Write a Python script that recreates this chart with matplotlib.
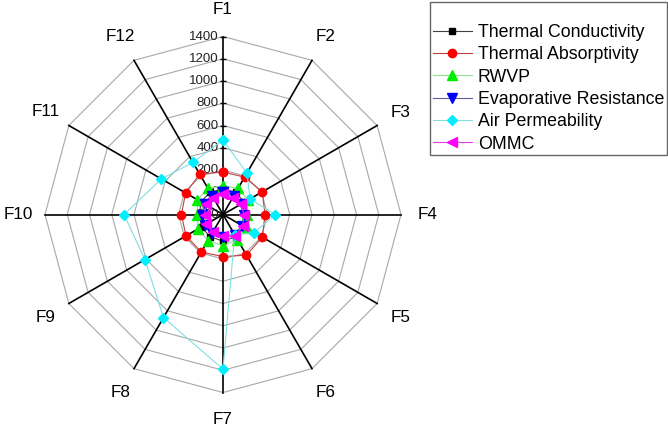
import numpy as np
import matplotlib
matplotlib.use("Agg")
import matplotlib.pyplot as plt

plt.rcParams['font.family'] = ['Liberation Sans', 'DejaVu Sans']

categories = ["F1", "F2", "F3", "F4", "F5", "F6", "F7", "F8", "F9", "F10", "F11", "F12"]

thermal_conductivity = [30, 30, 20, 10, 25, 30, 40, 30, 25, 10, 30, 30]
thermal_absorptivity = [182, 188, 207, 178, 208, 222, 178, 190, 184, 174, 188, 218]
rwvp = [60, 70, 60, 15, 45, 60, 80, 70, 60, 30, 65, 70]
evaporative_resistance = [0, -10, -5, -10, 0, 10, 0, -5, -10, -15, -10, -5]
air_permeability = [470, 230, 80, 270, 125, 10, 1190, 870, 610, 690, 440, 340]
ommc = [-20, -25, -15, -10, 5, 20, -5, -15, -25, -35, -20, -25]

radial_ticks = [-200, 0, 200, 400, 600, 800, 1000, 1200, 1400]
rmin, rmax = -200, 1400

series = [
    ("Thermal Conductivity", thermal_conductivity, "#404040", "s", "black", 5),
    ("Thermal Absorptivity", thermal_absorptivity, "#c04040", "o", "#ff0000", 6),
    ("RWVP", rwvp, "#90e090", "^", "#00ee00", 6.5),
    ("Evaporative Resistance", evaporative_resistance, "#6060a0", "v", "#0000ff", 6.5),
    ("Air Permeability", air_permeability, "#80e0e0", "D", "#00eeff", 5.5),
    ("OMMC", ommc, "#e040e0", "<", "#ff00ff", 6.5),
]

W, H = 668, 428
fig = plt.figure(figsize=(W / 100, H / 100), dpi=100)
cx, cy, R = 223, 214.5, 178
ax = fig.add_axes([(cx - R) / W, (H - cy - R) / H, 2 * R / W, 2 * R / H], projection="polar")
ax.set_theta_offset(np.pi / 2)
ax.set_theta_direction(-1)
ax.set_ylim(rmin, rmax)
ax.grid(False)
ax.spines["polar"].set_visible(False)
ax.set_xticks([])
ax.set_yticks([])
ax.patch.set_alpha(0)

n = len(categories)
theta = np.arange(n) * 2 * np.pi / n
theta_c = np.append(theta, theta[0])

# polygon rings
for r in radial_ticks[1:]:
    ax.plot(theta_c, [r] * (n + 1), color="#a8a8a8", lw=0.8, zorder=1, clip_on=False)
# spokes
for t in theta:
    ax.plot([t, t], [rmin, rmax], color="black", lw=1.2, zorder=2, clip_on=False)

# radial labels along F1
for r in radial_ticks:
    ax.plot([0], [r], marker="_", color="black", ms=4, zorder=2, clip_on=False)
    ax.annotate(str(r), xy=(0, r), xytext=(-3, 0), textcoords="offset points",
                ha="right", va="center", fontsize=9.5, color="#222222", zorder=3)

# category labels
r_lab = rmin + 205 / R * (rmax - rmin)
for t, c in zip(theta, categories):
    ax.text(t, r_lab, c, ha="center", va="center", fontsize=12.3, clip_on=False)

for name, vals, lc, mk, mc, ms in series:
    v = np.append(vals, vals[0])
    ax.plot(theta_c, v, color=lc, lw=0.8, marker=mk, markerfacecolor=mc,
            markeredgecolor=mc, ms=ms, label=name, zorder=4, clip_on=False)

leg = fig.legend(loc="upper right", bbox_to_anchor=(667 / W, 1 - 2 / H),
                 bbox_transform=fig.transFigure, fontsize=12.8, frameon=True,
                 fancybox=False, shadow=False, borderaxespad=0,
                 handlelength=2.2, handletextpad=0.35, labelspacing=0.3,
                 borderpad=0.15, title=" ", title_fontsize=10)
leg.get_frame().set_edgecolor("#404040")
leg.get_frame().set_linewidth(1.0)

fig.savefig("out.png", dpi=100)
